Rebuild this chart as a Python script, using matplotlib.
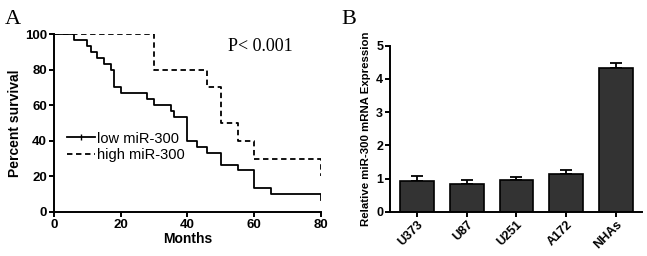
import numpy as np
import matplotlib.pyplot as plt
from matplotlib.lines import Line2D

# survival curves (Kaplan-Meier style steps)
low_months = [0, 6, 10, 11, 13, 15, 17, 18, 20, 28, 30, 35, 36, 40, 43, 46, 50, 55, 60, 65, 80, 80]
low_surv = [100, 96.67, 93.33, 90, 86.67, 83.33, 80, 70, 66.67, 63.33, 60, 56.67, 53.33,
            40, 36.67, 33.33, 26.67, 23.33, 13.33, 10, 10, 7]
high_months = [0, 30, 46, 50, 55, 60, 80, 80]
high_surv = [100, 80, 70, 50, 40, 30, 30, 20]

# expression bars
cells = ['U373', 'U87', 'U251', 'A172', 'NHAs']
expr = [0.93, 0.83, 0.95, 1.15, 4.33]
expr_err = [0.15, 0.13, 0.10, 0.10, 0.15]

plt.rcParams['font.family'] = ['Liberation Sans', 'DejaVu Sans']

fig = plt.figure(figsize=(6.47, 2.56), dpi=100)
ax1 = fig.add_axes([0.0835, 0.172, 0.4125, 0.695])
ax2 = fig.add_axes([0.603, 0.172, 0.389, 0.65])

# panel A
ax1.step(low_months, low_surv, where='post', color='black', lw=1.3)
ax1.step(high_months, high_surv, where='post', color='black', lw=1.3, linestyle=(0, (3, 2)))
ax1.set_xlim(0, 80)
ax1.set_ylim(0, 100)
ax1.set_xticks([0, 20, 40, 60, 80])
ax1.set_yticks([0, 20, 40, 60, 80, 100])
ax1.set_xlabel('Months', fontsize=10, fontweight='bold', labelpad=1)
ax1.set_ylabel('Percent survival', fontsize=10, fontweight='bold', labelpad=2)
ax1.text(0.65, 0.93, 'P< 0.001', transform=ax1.transAxes, fontsize=13,
         family='Liberation Serif', va='center', ha='left')

handles = [Line2D([], [], color='black', lw=1.3, marker='|', markersize=4),
           Line2D([], [], color='black', lw=1.3, linestyle=(0, (3, 2)))]
ax1.legend(handles, ['low miR-300', 'high miR-300'], loc='center left',
           bbox_to_anchor=(0.01, 0.365), frameon=False, fontsize=10.5,
           handlelength=1.9, handletextpad=0.15, labelspacing=0.2, numpoints=1,
           borderaxespad=0.3)

# panel B
x = np.arange(len(cells))
ax2.bar(x, expr, width=0.68, color='#333333', edgecolor='black', linewidth=1.2, zorder=2)
ax2.errorbar(x, expr, yerr=[np.zeros(len(expr)), expr_err], fmt='none',
             ecolor='black', elinewidth=1.3, capsize=4, capthick=1.3, zorder=1)
ax2.set_xlim(-0.53, 4.51)
ax2.set_ylim(0, 5)
ax2.set_yticks([0, 1, 2, 3, 4, 5])
ax2.set_xticks(x)
ax2.set_xticklabels(cells, rotation=45, ha='right', rotation_mode='anchor',
                    fontsize=9, fontweight='bold')
ax2.set_ylabel('Relative miR-300 mRNA Expression', fontsize=8.2, fontweight='bold', labelpad=4)

for ax, fs in [(ax1, 9.5), (ax2, 9)]:
    for s in ['top', 'right']:
        ax.spines[s].set_visible(False)
    for s in ['left', 'bottom']:
        ax.spines[s].set_linewidth(1.4)
    ax.tick_params(width=1.4, length=3.5, labelsize=fs, pad=1.5)
    for lab in ax.get_yticklabels():
        lab.set_fontweight('bold')
for lab in ax1.get_xticklabels():
    lab.set_fontweight('bold')

fig.text(0.008, 0.96, 'A', fontsize=16, family='Liberation Serif', va='top')
fig.text(0.528, 0.96, 'B', fontsize=16, family='Liberation Serif', va='top')

fig.savefig('out.png', dpi=100)
